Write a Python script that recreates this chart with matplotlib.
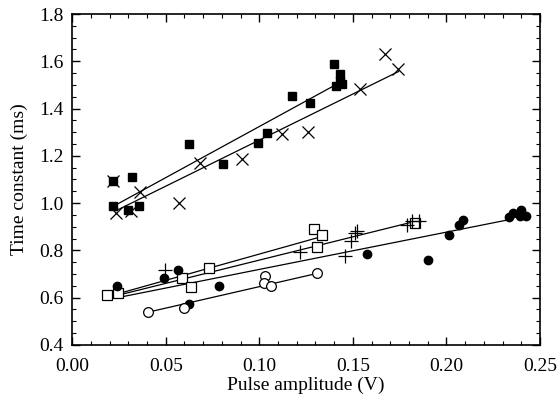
import numpy as np
import matplotlib
matplotlib.use("Agg")
from matplotlib import pyplot as plt
from matplotlib.ticker import MultipleLocator

plt.rcParams["font.family"] = ["Liberation Serif", "DejaVu Serif"]

# filled squares
sq_f_x = [0.0217, 0.0319, 0.0217, 0.030, 0.036, 0.0627, 0.0808, 0.0992, 0.104,
          0.1177, 0.127, 0.140, 0.143, 0.143, 0.141, 0.144]
sq_f_y = [1.095, 1.109, 0.986, 0.972, 0.986, 1.252, 1.167, 1.255, 1.297,
          1.453, 1.422, 1.590, 1.545, 1.515, 1.495, 1.505]
sq_f_fit_x = [0.0217, 0.143]
sq_f_fit_y = [0.985, 1.510]

# crosses (x)
cr_x = [0.0217, 0.0235, 0.0313, 0.0363, 0.057, 0.0684, 0.0906, 0.112, 0.126,
        0.154, 0.167, 0.174]
cr_y = [1.095, 0.959, 0.965, 1.046, 1.001, 1.170, 1.187, 1.293, 1.300,
        1.483, 1.632, 1.567]
cr_fit_x = [0.0235, 0.1745]
cr_fit_y = [0.968, 1.557]

# open squares
sq_o_x = [0.0185, 0.0247, 0.0586, 0.0634, 0.0732, 0.1294, 0.1337, 0.131, 0.183]
sq_o_y = [0.613, 0.620, 0.681, 0.644, 0.726, 0.892, 0.867, 0.813, 0.916]
sq_o_fit_x = [0.0203, 0.1337]
sq_o_fit_y = [0.607, 0.859]

# plus
pl_x = [0.0497, 0.1218, 0.1458, 0.1489, 0.151, 0.1524, 0.1788, 0.1814, 0.1855]
pl_y = [0.716, 0.792, 0.775, 0.841, 0.874, 0.881, 0.909, 0.923, 0.926]
pl_fit_x = [0.0220, 0.1855]
pl_fit_y = [0.605, 0.927]

# filled circles
ci_f_x = [0.0242, 0.0493, 0.0565, 0.0627, 0.0787, 0.1574, 0.1900, 0.2016, 0.2069,
          0.209, 0.2336, 0.2354, 0.2397, 0.2393, 0.2425]
ci_f_y = [0.648, 0.684, 0.715, 0.575, 0.651, 0.786, 0.758, 0.864, 0.906,
          0.929, 0.940, 0.956, 0.970, 0.946, 0.946]
ci_f_fit_x = [0.0238, 0.2336]
ci_f_fit_y = [0.599, 0.930]

# open circles
ci_o_x = [0.0404, 0.060, 0.1031, 0.1026, 0.1063, 0.1307]
ci_o_y = [0.538, 0.557, 0.693, 0.663, 0.651, 0.702]
ci_o_fit_x = [0.0404, 0.1307]
ci_o_fit_y = [0.538, 0.702]

fig = plt.figure(figsize=(5.59, 4.01), dpi=100)
ax = fig.add_axes([0.129, 0.140, 0.837, 0.825])

lw = 0.9
for fx, fy in [(sq_f_fit_x, sq_f_fit_y), (cr_fit_x, cr_fit_y), (sq_o_fit_x, sq_o_fit_y),
               (pl_fit_x, pl_fit_y), (ci_f_fit_x, ci_f_fit_y), (ci_o_fit_x, ci_o_fit_y)]:
    ax.plot(fx, fy, "k-", lw=lw)

ax.plot(sq_f_x, sq_f_y, "ks", ms=6, ls="none")
ax.plot(cr_x, cr_y, "kx", ms=9, mew=0.9, ls="none")
ax.plot(sq_o_x, sq_o_y, "s", mfc="white", mec="k", ms=7, mew=0.9, ls="none")
ax.plot(pl_x, pl_y, "k+", ms=10, mew=0.9, ls="none")
ax.plot(ci_f_x, ci_f_y, "ko", ms=6, ls="none")
ax.plot(ci_o_x, ci_o_y, "o", mfc="white", mec="k", ms=7, mew=0.9, ls="none")

ax.set_xlim(0, 0.25)
ax.set_ylim(0.4, 1.8)
ax.xaxis.set_major_locator(MultipleLocator(0.05))
ax.xaxis.set_minor_locator(MultipleLocator(0.01))
ax.yaxis.set_major_locator(MultipleLocator(0.2))
ax.yaxis.set_minor_locator(MultipleLocator(0.05))
ax.set_xticklabels([f"{v:.2f}" for v in ax.get_xticks()])
ax.set_yticklabels([f"{v:.1f}" for v in ax.get_yticks()])
ax.tick_params(which="both", direction="in", top=True, right=True, labelsize=14)
ax.tick_params(axis="x", which="major", pad=9.5)
ax.tick_params(axis="y", which="major", pad=6)
ax.tick_params(which="major", length=6, width=1)
ax.tick_params(which="minor", length=3, width=0.8)
for s in ax.spines.values():
    s.set_linewidth(1.2)

ax.set_xlabel("Pulse amplitude (V)", fontsize=14, labelpad=1.5)
ax.set_ylabel("Time constant (ms)", fontsize=14, labelpad=8)

fig.savefig("out.png", dpi=100)
